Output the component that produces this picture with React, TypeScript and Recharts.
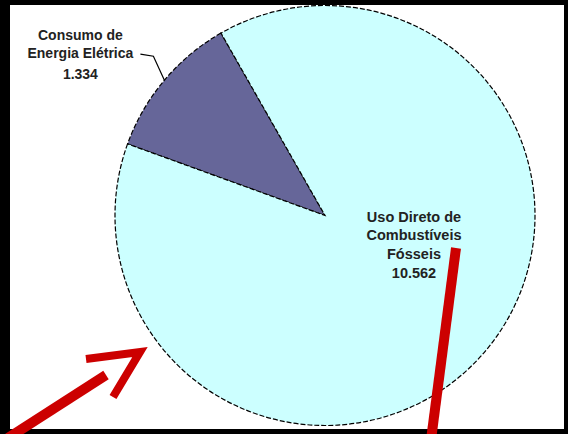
import React from "react";
import { PieChart, Pie, Cell } from "recharts";

const categories = ["Consumo de Energia Elétrica", "Uso Direto de Combustíveis Fósseis"];
const values = [1.334, 10.562];
const valueLabels = ["1.334", "10.562"];
const labelLines = [
  ["Consumo de", "Energia Elétrica"],
  ["Uso Direto de", "Combustíveis", "Fósseis"],
];
const colors = ["#666699", "#ccffff"];

const data = categories.map((name, i) => ({ name, value: values[i] }));

const FONT = "'Liberation Sans', Arial, sans-serif";

const renderLabel = (props: any) => {
  const { cx, cy, midAngle, outerRadius, index } = props;
  const RAD = Math.PI / 180;
  if (index === 0) {
    const sx = cx + outerRadius * Math.cos(-midAngle * RAD);
    const sy = cy + outerRadius * Math.sin(-midAngle * RAD);
    const mx = sx - 11;
    const my = sy - 24;
    const ex = mx - 13;
    const ey = my - 2;
    const tx = ex - 60;
    const lines = [...labelLines[0], valueLabels[0]];
    const baselines = [ey - 14, ey + 4, ey + 25];
    return (
      <g>
        <polyline points={`${sx},${sy} ${mx},${my} ${ex},${ey}`} fill="none" stroke="#000" strokeWidth={1.2} />
        {lines.map((t, i) => (
          <text key={i} x={tx} y={baselines[i]} textAnchor="middle" fontFamily={FONT} fontWeight="bold" fontSize={14} fill="#222">
            {t}
          </text>
        ))}
      </g>
    );
  }
  const lines = [...labelLines[1], valueLabels[1]];
  const tx = cx + 89;
  return (
    <g>
      {lines.map((t, i) => (
        <text key={i} x={tx} y={cy + 6 + i * 18.7} textAnchor="middle" fontFamily={FONT} fontWeight="bold" fontSize={14.5} fill="#222">
          {t}
        </text>
      ))}
    </g>
  );
};

export default function App() {
  return (
    <div style={{ position: "fixed", left: 0, top: 0, width: 568, height: 434, background: "#000", overflow: "hidden" }}>
      <div style={{ position: "absolute", left: 10, top: 5, width: 554, height: 424, background: "#fff" }} />
      <div style={{ position: "absolute", left: 0, top: 0 }}>
        <PieChart width={568} height={434} margin={{ top: 0, right: 0, bottom: 0, left: 0 }}>
          <Pie
            data={data}
            dataKey="value"
            nameKey="name"
            cx={325}
            cy={215.5}
            outerRadius={210}
            startAngle={119.7}
            endAngle={479.7}
            stroke="#000"
            strokeWidth={1.2}
            strokeDasharray="5 2"
            label={renderLabel}
            labelLine={false}
            isAnimationActive={false}
          >
            {data.map((d, i) => (
              <Cell key={d.name} fill={colors[i]} />
            ))}
          </Pie>
        </PieChart>
      </div>
      <svg width={568} height={434} style={{ position: "absolute", left: 0, top: 0, pointerEvents: "none" }}>
        <g stroke="#cc0000" fill="none" strokeLinecap="butt">
          <line x1={8} y1={438} x2={106} y2={375} strokeWidth={10} />
          <polyline points="86,359 140,352 113,397" strokeWidth={8} strokeLinejoin="miter" />
          <line x1={456} y1={248} x2={431} y2={440} strokeWidth={10} />
        </g>
      </svg>
    </div>
  );
}
